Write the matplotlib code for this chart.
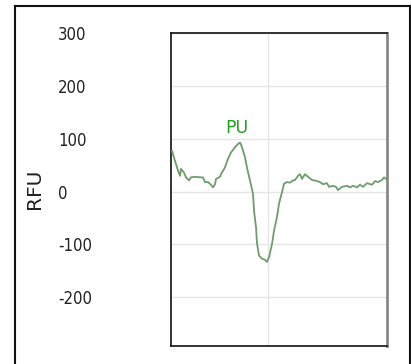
import matplotlib
matplotlib.use("Agg")
import matplotlib.pyplot as plt
from matplotlib.lines import Line2D

scan = [1, 4, 7, 9, 10, 13, 15, 18, 20, 24, 29, 32, 34, 37, 40, 42, 44, 45, 49, 50,
        54, 57, 60, 64, 67, 69, 71, 74, 76, 79, 82, 83, 85, 86, 88, 91, 94, 96, 98, 101,
        103, 106, 108, 111, 113, 116, 119, 122, 124, 126, 127, 129, 131, 134, 137, 141,
        146, 149, 152, 156, 158, 162, 165, 167, 171, 176, 179, 182, 186, 189, 192, 196,
        201, 204, 207, 211, 213, 215]
rfu = [77, 58, 40, 30, 43, 36, 27, 21, 27, 28, 27, 27, 18, 18, 13, 8, 14, 24, 28, 33,
       46, 62, 74, 84, 90, 93, 84, 65, 45, 21, -4, -36, -67, -98, -121, -127, -129, -133, -124, -99,
       -74, -48, -23, -1, 15, 18, 17, 21, 22, 27, 30, 33, 24, 33, 28, 22,
       20, 18, 14, 16, 9, 11, 9, 3, 9, 11, 8, 11, 8, 13, 9, 16,
       13, 20, 18, 22, 27, 24]
yticks = [300, 200, 100, 0, -100, -200]
ytick_labels = ["300", "200", "100", "0", "-100", "-200"]
peak_label = "PU"
peak_scan = 69
peak_rfu = 93

W, H = 411, 364
fig = plt.figure(figsize=(W / 100, H / 100), dpi=100)
ax = fig.add_axes([171 / W, 1 - 346 / H, 216 / W, 313 / H])

ax.plot(scan, rfu, color="#6f9c6f", lw=1.3, zorder=3)
ax.set_xlim(0, 216)
ax.set_ylim(-292, 300)
ax.set_yticks(yticks)
ax.set_yticklabels(ytick_labels)
ax.set_xticks([97])
ax.set_xticklabels([])
ax.tick_params(axis="both", length=0)
ax.tick_params(axis="y", pad=113 * 0.72)
for lab in ax.get_yticklabels():
    lab.set_horizontalalignment("left")
    lab.set_fontsize(12)
    lab.set_fontstretch("condensed")
    lab.set_color("#222222")
ax.grid(True, color="#e6e6e6", lw=1.0, zorder=0)
ax.set_axisbelow(True)

for s in ["left", "top", "bottom"]:
    ax.spines[s].set_color("#111111")
    ax.spines[s].set_linewidth(1.2)
ax.spines["right"].set_color("#888888")
ax.spines["right"].set_linewidth(2.0)

ax.annotate(peak_label, (peak_scan, peak_rfu), xytext=(-3, 5), textcoords="offset pixels",
            ha="center", va="bottom", color="#22a022", fontsize=12.5)

fig.text(35 / W, 1 - 189 / H, "RFU", rotation=90, ha="center", va="center",
         fontsize=14.5, color="#222222")

# outer border
lw = 1.5
fig.add_artist(Line2D([15 / W, 15 / W], [-0.01, 1 - 6 / H], transform=fig.transFigure, color="#111111", lw=lw))
fig.add_artist(Line2D([15 / W, 410 / W], [1 - 6 / H, 1 - 6 / H], transform=fig.transFigure, color="#111111", lw=lw))
fig.add_artist(Line2D([410 / W, 410 / W], [-0.01, 1 - 6 / H], transform=fig.transFigure, color="#111111", lw=lw))

fig.savefig("out.png", dpi=100)
